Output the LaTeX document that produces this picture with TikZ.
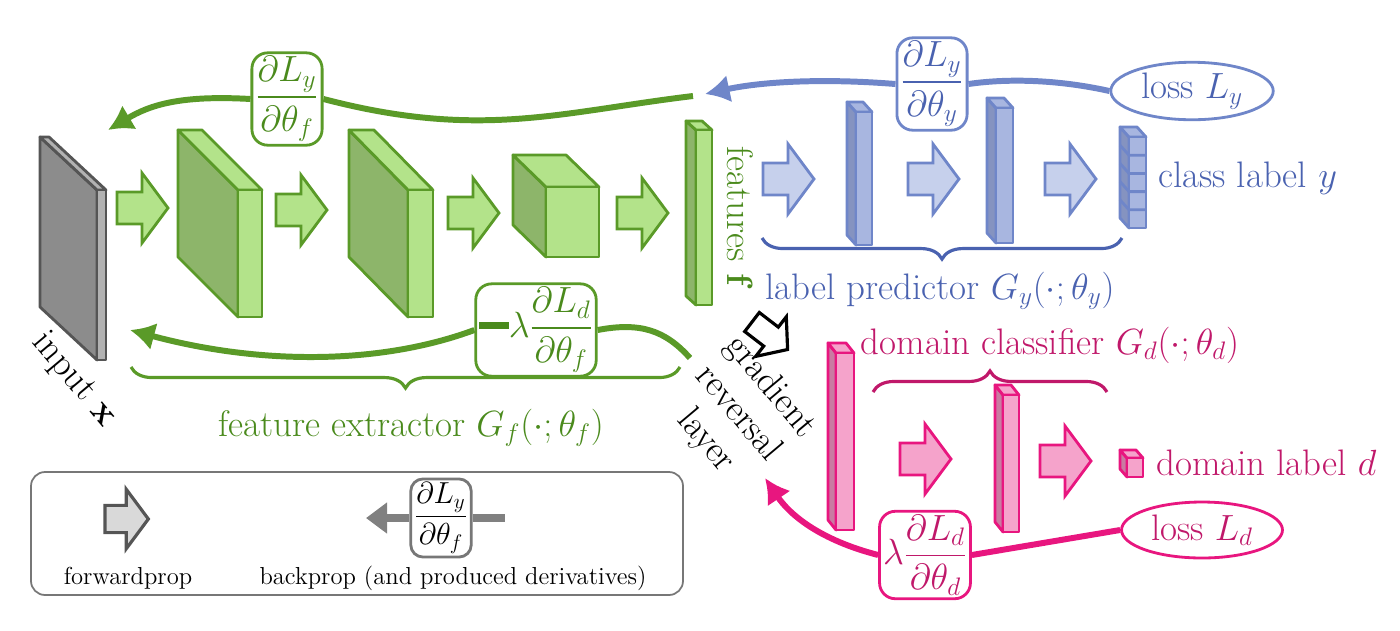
\documentclass[tikz,border=0pt]{standalone}
\usepackage{amsmath,amssymb}
\usetikzlibrary{decorations.pathreplacing,shapes.geometric,arrows.meta}
\definecolor{gS}{HTML}{5A9A28}
\definecolor{gT}{HTML}{4A8A1C}
\definecolor{gL}{HTML}{B3E38A}
\definecolor{gD}{HTML}{8DB56A}
\definecolor{bS}{HTML}{6F86C9}
\definecolor{bT}{HTML}{4A62B0}
\definecolor{bL}{HTML}{C6D0EC}
\definecolor{bM}{HTML}{A8B6E0}
\definecolor{bD}{HTML}{8593C0}
\definecolor{pS}{HTML}{E8167F}
\definecolor{pT}{HTML}{C0186A}
\definecolor{pL}{HTML}{F5A3CB}
\definecolor{pD}{HTML}{C97BA2}
\definecolor{kS}{HTML}{555555}
\newcommand\blk[9]{%
 \begin{scope}[shift={(#1,#2)},line width=1.6pt,line join=round,draw=#7]
  \filldraw[fill=#8] (0,0)--(#5,#6)--(#5,{#6+#4})--(0,#4)--cycle;
  \filldraw[fill=#9] (0,0)--(#5,#6)--({#5+#3},#6)--(#3,0)--cycle;
  \filldraw[fill=#9] (0,0) rectangle (#3,#4);
 \end{scope}}
\newcommand\farr[4]{%
 \filldraw[line width=1.6pt,line join=miter,draw=#3,fill=#4] (#1,#2) ++(0,-16) -- ++(25,0) -- ++(0,-19) -- ++(26,35) -- ++(-26,35) -- ++(0,-19) -- ++(-25,0) -- cycle;}
\tikzset{
 box/.style={draw=#1,rounded corners=9pt,line width=1.6pt,fill=white,inner sep=2pt,text=#1},
 back/.style={draw=#1,line width=3.4pt,-{Latex[length=14pt,width=16pt]}},
 backn/.style={draw=#1,line width=3.4pt},
 lbl/.style={font=\fontsize{21}{24}\selectfont},
}
\begin{document}
\begin{tikzpicture}[x=0.02cm,y=-0.02cm,lbl]
\useasboundingbox (0,0) rectangle (1400,630);
% input
\blk{97}{190}{9}{170}{-57}{-53}{kS}{gray!90}{gray!60}
\node[rotate=-50] (inx) at (74,380) {input $\mathbf{x}$};
% green layers
\blk{238}{190}{24}{127}{-60}{-60}{gS}{gD}{gL}
\blk{408}{190}{25}{127}{-59}{-60}{gS}{gD}{gL}
\blk{546}{187}{53}{70}{-33}{-32}{gS}{gD}{gL}
\blk{696}{130}{16}{175}{-10}{-9}{gS}{gD}{gL}
\farr{117}{208}{gS}{gL}\farr{276}{210}{gS}{gL}\farr{448}{213}{gS}{gL}\farr{617}{213}{gS}{gL}
\node[rotate=-90,text=gT] (feat) at (740,218) {features $\mathbf{f}$};
% blue
\blk{856}{112}{16}{133}{-9}{-10}{bS}{bD}{bM}
\blk{996}{108}{17}{135}{-9}{-10}{bS}{bD}{bM}
\blk{1129}{137}{17}{91}{-9}{-10}{bS}{bD}{bM}
\foreach \k in {1,2,3,4} \draw[bS,line width=1.6pt] (1129,{137+\k*18.2}) -- ++(17,0) (1129,{137+\k*18.2}) -- ++(-9,-10);
\farr{763}{179}{bS}{bL}\farr{908}{179}{bS}{bL}\farr{1045}{179}{bS}{bL}
\node[anchor=west,text=bT] (cly) at (1152,178) {class label $y$};
\node[ellipse,draw=bS,line width=1.6pt,fill=white,text=bT,minimum width=3.25cm,minimum height=1.15cm,inner sep=0pt] (lossy) at (1192,91) {loss $L_y$};
\node[box=bS,text=bT] (by) at (932,84) {$\displaystyle\frac{\partial L_y}{\partial\theta_y}$};
\coordinate (jy) at (705,94);
\draw[backn=bS] (lossy.west) .. controls (1060,80) and (1010,78) .. (by.east);
\draw[back=bS] (by.west) .. controls (820,78) and (760,82) .. (jy);
% green top back
\node[box=gS,text=gT] (bf) at (287,99) {$\displaystyle\frac{\partial L_y}{\partial\theta_f}$};
\coordinate (jg) at (693,96);
\draw[backn=gS] (jg) .. controls (560,112) and (480,140) .. (bf.east);
\draw[back=gS] (bf.west) .. controls (180,95) and (150,105) .. (108,130);
% braces
\draw[gS,line width=1.8pt,decorate,decoration={brace,mirror,amplitude=12pt}] (131,367) -- (680,367);
\node[text=gT] (fe) at (411,428) {feature extractor $G_f(\cdot;\theta_f)$};
\draw[bT,line width=1.8pt,decorate,decoration={brace,mirror,amplitude=12pt}] (762,238) -- (1122,238);
\node[text=bT] (lp) at (940,291) {label predictor $G_y(\cdot;\theta_y)$};
\draw[pT,line width=1.8pt,decorate,decoration={brace,amplitude=12pt}] (873,392) -- (1107,392);
\node[text=pT] (dc) at (1050,345) {domain classifier $G_d(\cdot;\theta_d)$};
% green bottom back
\node[box=gS,text=gT] (bd) at (536,330) {{\color{gT}\rule[0.22em]{0.8em}{0.2em}}$\displaystyle\lambda\frac{\partial L_d}{\partial\theta_f}$};
\coordinate (jr) at (690,358);
\draw[backn=gS] (jr) .. controls (665,330) and (640,322) .. (bd.east);
\draw[back=gS] (bd.west) .. controls (380,365) and (260,365) .. (130,330);
% gradient reversal
\node[rotate=-50,align=center,inner sep=0pt] (grl) at (738,414) {gradient\\reversal\\layer};
\filldraw[line width=1.8pt,draw=black,fill=white,line join=miter] (744.7,331.5) -- (763.7,346.1) -- (755.7,356.4) -- (787.6,349.5) -- (786.3,316.8) -- (778.3,327.1) -- (759.3,312.5) -- cycle;
% pink
\blk{836}{353}{18}{177}{-8}{-10}{pS}{pD}{pL}
\blk{1003}{395}{16}{137}{-8}{-10}{pS}{pD}{pL}
\blk{1127}{458}{16}{19}{-7}{-8}{pS}{pD}{pL}
\farr{900}{459}{pS}{pL}\farr{1040}{461}{pS}{pL}
\node[anchor=west,text=pT] (dl) at (1150,463) {domain label $d$};
\node[ellipse,draw=pS,line width=1.6pt,fill=white,text=pT,minimum width=3.22cm,minimum height=1.12cm,inner sep=0pt] (lossd) at (1202,530) {loss $L_d$};
\node[box=pS,text=pT] (bp) at (925,555) {$\displaystyle\lambda\frac{\partial L_d}{\partial\theta_d}$};
\draw[backn=pS] (lossd.west) -- (bp.east);
\draw[back=pS] (bp.west) .. controls (820,540) and (790,515) .. (765,478);
% legend
\draw[kS!80,line width=1pt,rounded corners=8pt] (31,472) rectangle (683,595);
\begin{scope}[shift={(105,519)},scale=0.85]
 \filldraw[line width=1.8pt,draw=kS,fill=gray!30] (0,0) ++(0,-16) -- ++(25,0) -- ++(0,-19) -- ++(26,35) -- ++(-26,35) -- ++(0,-19) -- ++(-25,0) -- cycle;
\end{scope}
\node[font=\fontsize{14}{16}\selectfont] (fwd) at (128,578) {forwardprop};
\node[box=kS!80,text=black,font=\fontsize{17}{19}\selectfont,rounded corners=7pt] (lb) at (441,518) {$\displaystyle\frac{\partial L_y}{\partial\theta_f}$};
\coordinate (le) at (505,518);
\coordinate (lw) at (366,518);
\draw[gray,line width=5pt] (lb.east) -- (le);
\draw[gray,line width=5pt,-{Triangle[length=12pt,width=17pt]}] (lb.west) -- (lw);
\node[font=\fontsize{14}{16}\selectfont] (bpl) at (453,578) {backprop (and produced derivatives)};
\end{tikzpicture}
\end{document}
